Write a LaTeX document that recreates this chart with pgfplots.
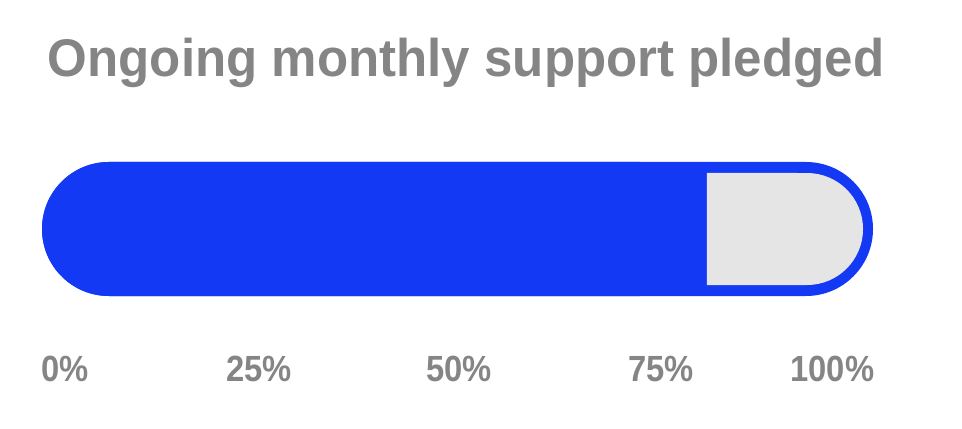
\documentclass[border=0pt]{standalone}
\usepackage{fontspec}
\setmainfont{Liberation Sans}
\usepackage{graphicx}
\usepackage{pgfplots}
\pgfplotsset{compat=1.18}

\definecolor{barblue}{HTML}{1439F4}
\definecolor{trackgray}{HTML}{E5E5E5}
\definecolor{labelgray}{HTML}{858585}

% tick label text: bold, a little narrower than Arial
\newcommand{\tl}[1]{\scalebox{0.9}[1]{\bfseries #1}}

\begin{document}
\begin{tikzpicture}
  % page frame (962 x 428 px at 0.5pt per px)
  \path (-21pt,-66pt) rectangle (460pt,148pt);

  \begin{axis}[
      scale only axis,
      width=415.5pt, height=67pt,
      xmin=0, xmax=100,
      ymin=0, ymax=67,
      clip=false,
      axis line style={draw=none},
      major tick length=0pt,
      ytick=\empty,
      xtick={2.73,26.11,50.18,74.49,95.12},
      xticklabels={\tl{0\%},\tl{25\%},\tl{50\%},\tl{75\%},\tl{100\%}},
      xticklabel style={anchor=base, yshift=-42.5pt, inner sep=0pt,
        font=\fontsize{18.2}{20}\selectfont, text=labelgray},
    ]
    % track: whole pill in blue (it also gives the border)
    \fill[barblue, rounded corners=33.5pt] (axis cs:0,0) rectangle (axis cs:100,67);

    % pledged share (its rounded right end sits on the blue track)
    \addplot[xbar, fill=barblue, draw=none, bar width=67, bar shift=0pt,
             rounded corners=33.5pt]
      coordinates {(80,33.5)};

    % what is still open, inset by the blue border
    \fill[trackgray] (axis cs:80,5.5) -- (axis cs:92.06,5.5)
      arc[start angle=-90, end angle=90, radius=28pt]
      -- (axis cs:80,61.5) -- cycle;
  \end{axis}

  \node[anchor=base west, inner sep=0pt, text=labelgray,
        font=\fontsize{26.5}{30}\selectfont\bfseries]
    at (2.7pt,109.5pt) {\scalebox{0.963}[1]{Ongoing monthly support pledged}};
\end{tikzpicture}
\end{document}
